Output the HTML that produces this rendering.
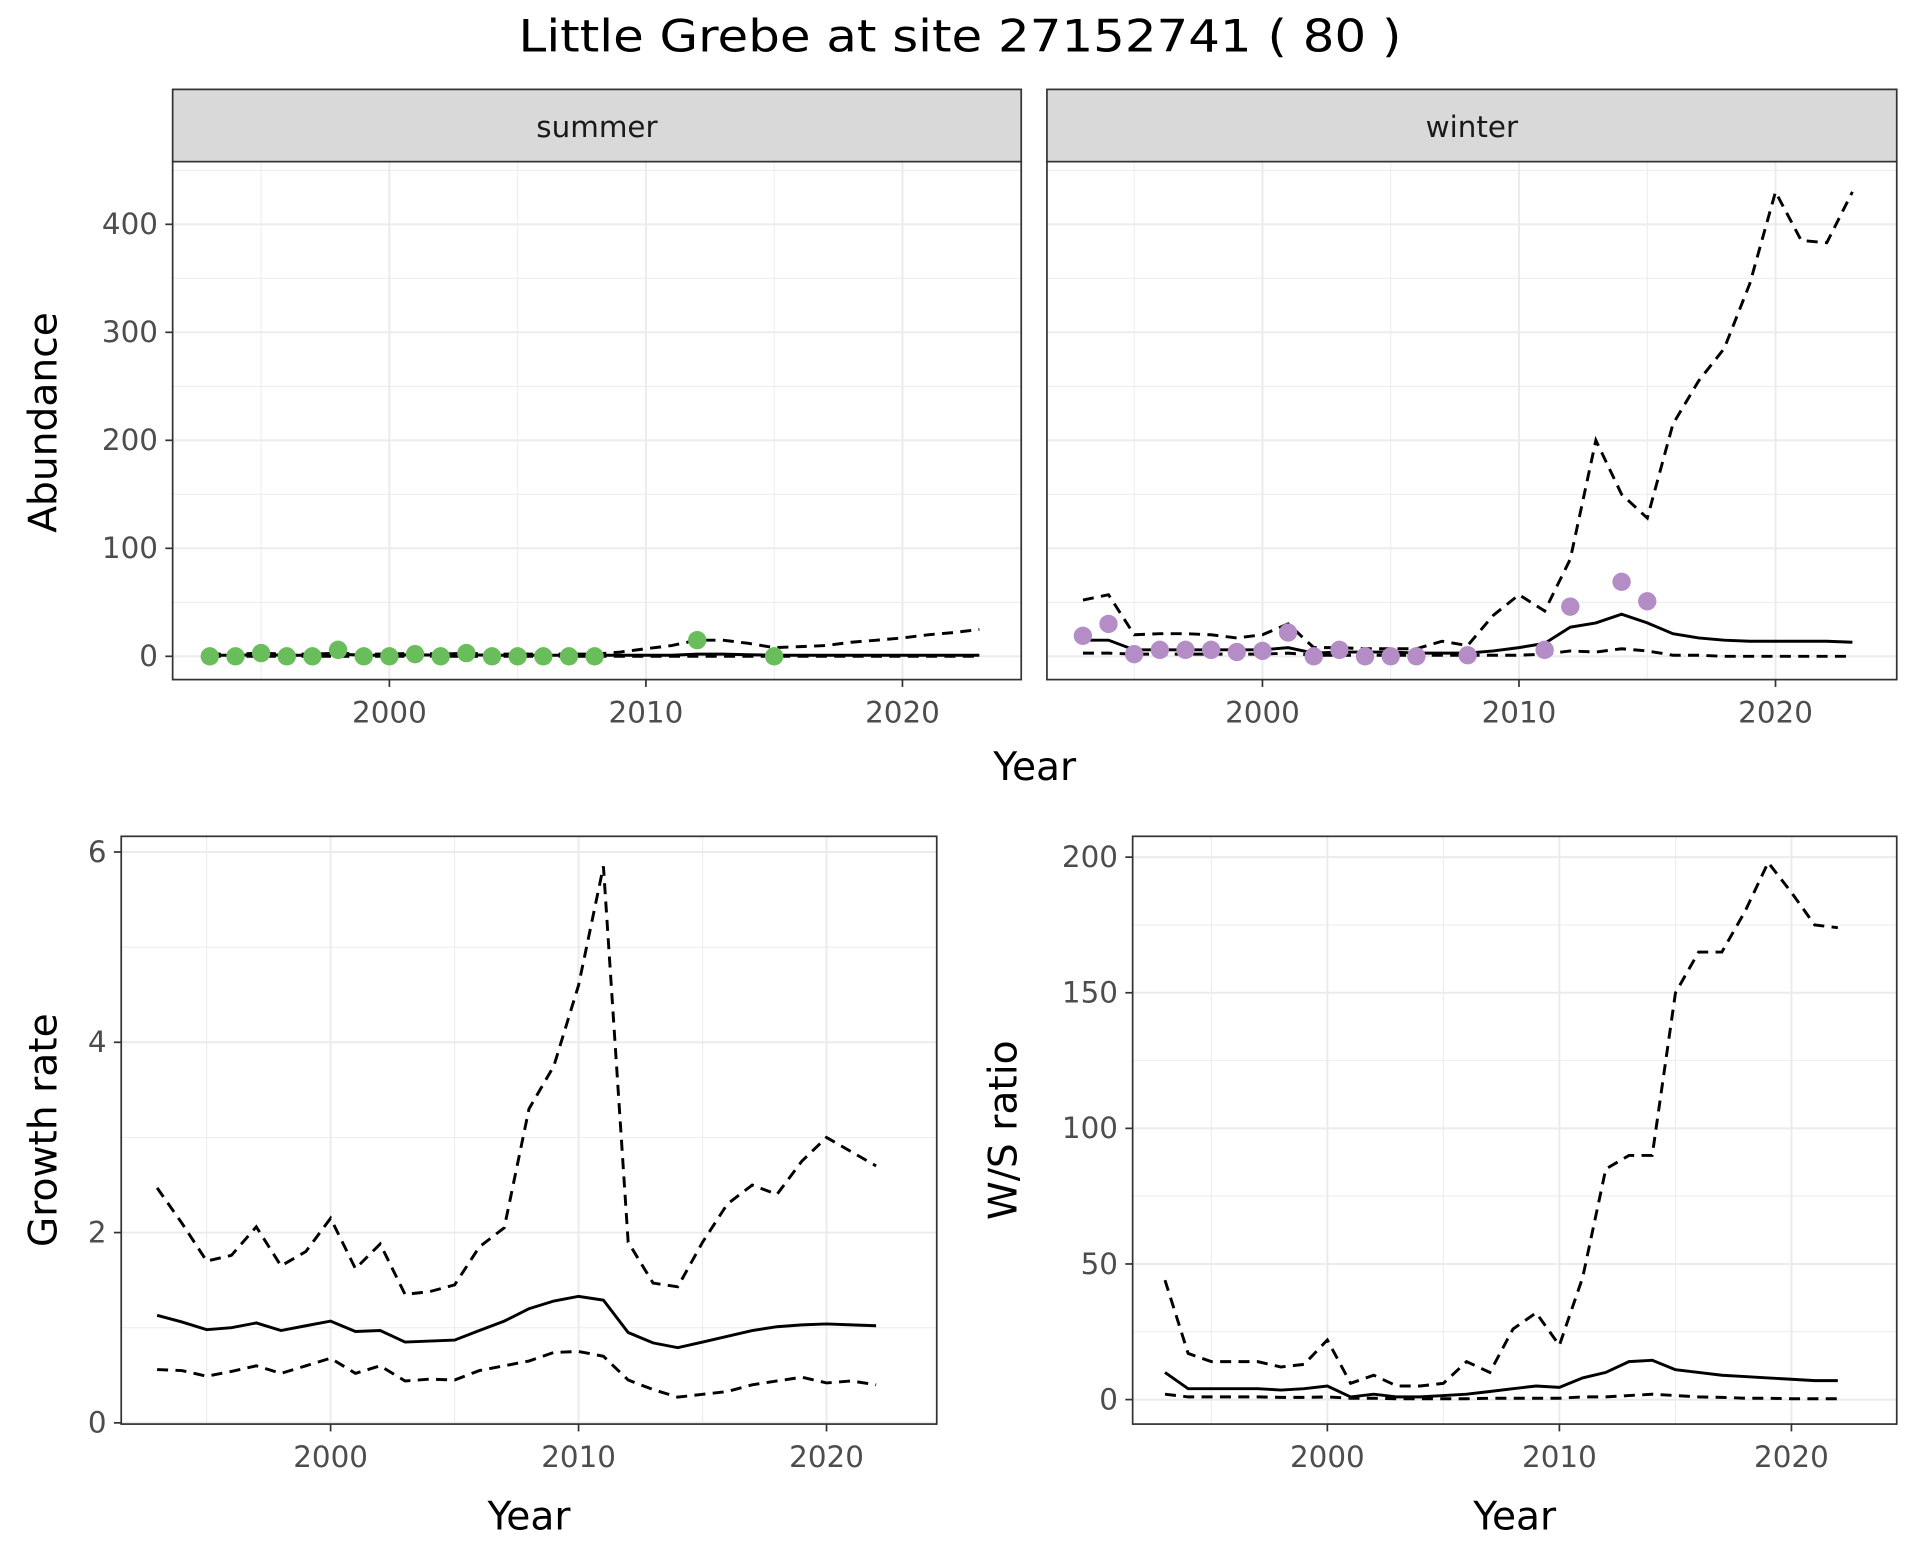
<!DOCTYPE html>
<html><head><meta charset="utf-8"><style>
html,body{margin:0;padding:0;background:#fff}
svg{display:block}
text{font-family:"DejaVu Sans","Liberation Sans",sans-serif}
</style></head><body>
<svg id="c" width="1920" height="1560" viewBox="0 0 1568 1274" xmlns="http://www.w3.org/2000/svg">
<rect width="1568" height="1274" fill="#fff"/>
<text x="784" y="42" text-anchor="middle" font-size="36" textLength="721" lengthAdjust="spacingAndGlyphs" fill="#000">Little Grebe at site 27152741 ( 80 )</text>
</svg>
<script>
const yearsA = [1993,1994,1995,1996,1997,1998,1999,2000,2001,2002,2003,2004,2005,2006,2007,2008,2009,2010,2011,2012,2013,2014,2015,2016,2017,2018,2019,2020,2021,2022,2023];
const summerMean = [1,1,1.5,1,1,2,1,1,1.5,1,1.5,1,1,1,1,1,1,1,1,2,2,1.5,1,1,1,1,1,1,1,1,1];
const summerUpper = [2,2,3,2,2,3,2,2,3,2,3,2,2,2,2,2,4,7,10,15,15,12,8,9,10,13,15,17,20,22,25];
const summerLower = [0,0,0,0,0,0,0,0,0,0,0,0,0,0,0,0,0,0,0,0,0,0,0,0,0,0,0,0,0,0,0];
const summerPtYears = [1993,1994,1995,1996,1997,1998,1999,2000,2001,2002,2003,2004,2005,2006,2007,2008,2012,2015];
const summerPtVals = [0,0,3,0,0,6,0,0,2,0,3,0,0,0,0,0,15,0];
const winterMean = [15,15,6,6,6,6,6,6,8,3,4,4,4,3,3,3,5,8,12,27,31,39,31,21,17,15,14,14,14,14,13];
const winterUpper = [52,57,20,21,21,20,17,20,30,8,8,7,7,7,14,10,38,57,42,90,200,150,128,215,255,285,345,430,385,383,430];
const winterLower = [3,3,2,2,2,2,2,2,3,1,1,1,1,1,1,1,1,1,2,5,4,7,5,1,1,0,0,0,0,0,0];
const winterPtYears = [1993,1994,1995,1996,1997,1998,1999,2000,2001,2002,2003,2004,2005,2006,2008,2011,2012,2014,2015];
const winterPtVals = [19,30,2,6,6,6,4,5,22,0,6,0,0,0,1,6,46,69,51];
const yearsB = [1993,1994,1995,1996,1997,1998,1999,2000,2001,2002,2003,2004,2005,2006,2007,2008,2009,2010,2011,2012,2013,2014,2015,2016,2017,2018,2019,2020,2021,2022];
const growthMean = [1.13,1.06,0.98,1.0,1.05,0.97,1.02,1.07,0.96,0.97,0.85,0.86,0.87,0.97,1.07,1.2,1.28,1.33,1.29,0.95,0.84,0.79,0.85,0.91,0.97,1.01,1.03,1.04,1.03,1.02];
const growthUpper = [2.47,2.1,1.7,1.76,2.06,1.65,1.8,2.15,1.62,1.88,1.35,1.38,1.45,1.85,2.05,3.3,3.75,4.6,5.85,1.9,1.47,1.43,1.9,2.3,2.5,2.4,2.75,3.0,2.85,2.7];
const growthLower = [0.56,0.55,0.49,0.54,0.6,0.52,0.6,0.68,0.52,0.6,0.44,0.46,0.45,0.55,0.6,0.65,0.74,0.75,0.7,0.45,0.35,0.27,0.3,0.33,0.4,0.44,0.48,0.42,0.44,0.4];
const ratioMean = [10,4,4,4,4,3.5,4,5,1,2,1,1,1.5,2,3,4,5,4.5,8,10,14,14.5,11,10,9,8.5,8,7.5,7,7];
const ratioUpper = [44,17,14,14,14,12,13,22,6,9,5,5,6,14,10,26,32,20,45,85,90,90,150,165,165,180,198,187,175,174];
const ratioLower = [2,1,1,1,1,0.8,0.8,1,0.5,0.5,0.3,0.3,0.3,0.3,0.5,0.5,0.5,0.5,1,1,1.5,2,1.5,1,0.8,0.5,0.5,0.3,0.3,0.3];
const abTicks = [0,100,200,300,400];
const grTicks = [0,2,4,6];
const raTicks = [0,50,100,150,200];
const xTicks = [2000,2010,2020];

const NS = "http://www.w3.org/2000/svg";
const svg = document.getElementById('c');
function mk(tag, attrs, parent, name) {
  const e = document.createElementNS(NS, tag);
  for (const k in attrs) e.setAttribute(k, attrs[k]);
  
  
  (parent || svg).appendChild(e);
  return e;
}
function panel(o) {
  const g = mk('g', {}, svg, o.name);
  const X = v => o.px0 + (v - o.xa) * o.xs;
  const Y = v => o.py0 - (v - o.ya) * o.ys;
  mk('rect', {x:o.L, y:o.T, width:o.R-o.L, height:o.B-o.T, fill:'#fff'}, g, 'panel-background');
  for (let i = 0; i < o.yt.length - 1; i++) {
    const m = (o.yt[i] + o.yt[i+1]) / 2;
    mk('line', {x1:o.L, x2:o.R, y1:Y(m), y2:Y(m), stroke:'#ebebeb', 'stroke-width':0.8}, g, 'minor-gridline');
  }
  const topMinor = o.yt[o.yt.length-1] + (o.yt[1]-o.yt[0])/2;
  if (Y(topMinor) > o.T) mk('line', {x1:o.L, x2:o.R, y1:Y(topMinor), y2:Y(topMinor), stroke:'#ebebeb', 'stroke-width':0.8}, g, 'minor-gridline');
  for (const t of [1995,2005,2015]) mk('line', {x1:X(t), x2:X(t), y1:o.T, y2:o.B, stroke:'#ebebeb', 'stroke-width':0.8}, g, 'minor-gridline');
  for (const t of o.yt) {
    mk('line', {x1:o.L, x2:o.R, y1:Y(t), y2:Y(t), stroke:'#ebebeb', 'stroke-width':1.6}, g, 'major-gridline');
    if (o.ylabels) {
      mk('line', {x1:o.L-6, x2:o.L, y1:Y(t), y2:Y(t), stroke:'#333', 'stroke-width':1.4}, g, 'y-tick');
      const tx = mk('text', {x:o.L-12, y:Y(t)+8, 'text-anchor':'end', 'font-size':24, fill:'#4d4d4d'}, g, 'y-tick-label');
      tx.textContent = t;
    }
  }
  for (const t of xTicks) {
    mk('line', {x1:X(t), x2:X(t), y1:o.T, y2:o.B, stroke:'#ebebeb', 'stroke-width':1.6}, g, 'major-gridline');
    mk('line', {x1:X(t), x2:X(t), y1:o.B, y2:o.B+6, stroke:'#333', 'stroke-width':1.4}, g, 'x-tick');
    const tx = mk('text', {x:X(t), y:o.B+35, 'text-anchor':'middle', 'font-size':24, fill:'#4d4d4d'}, g, 'x-tick-label');
    tx.textContent = t;
  }
  const line = (yrs, vals, dash, nm) => {
    const d = yrs.map((y,i)=>(i?'L':'M')+X(y).toFixed(1)+','+Y(vals[i]).toFixed(1)).join(' ');
    const a = {d:d, fill:'none', stroke:'#000', 'stroke-width':2.4};
    if (dash) a['stroke-dasharray'] = '9,6';
    mk('path', a, g, nm);
  };
  line(o.yrs, o.up, true, 'upper-ci-line');
  line(o.yrs, o.lo, true, 'lower-ci-line');
  line(o.yrs, o.mean, false, 'mean-line');
  if (o.pty) o.pty.forEach((y,i)=>{
    mk('circle', {cx:X(y), cy:Y(o.ptv[i]), r:7.5, fill:o.col}, g, 'observed-point');
  });
  mk('rect', {x:o.L, y:o.T, width:o.R-o.L, height:o.B-o.T, fill:'none', stroke:'#333', 'stroke-width':1.4}, g, 'panel-border');
  if (o.strip) {
    mk('rect', {x:o.L, y:73, width:o.R-o.L, height:o.T-73, fill:'#d9d9d9', stroke:'#333', 'stroke-width':1.4}, g, 'facet-strip');
    const st = mk('text', {x:(o.L+o.R)/2, y:112, 'text-anchor':'middle', 'font-size':24, fill:'#1a1a1a'}, g, 'facet-label-' + o.strip);
    st.textContent = o.strip;
  }
}
panel({name:'summer-panel', L:141, R:834, T:132, B:555, px0:318, xa:2000, xs:20.95, py0:536, ya:0, ys:0.882,
  yt:abTicks, ylabels:true, yrs:yearsA, mean:summerMean, up:summerUpper, lo:summerLower, pty:summerPtYears, ptv:summerPtVals, col:'#6abd5b', strip:'summer'});
panel({name:'winter-panel', L:855, R:1549, T:132, B:555, px0:1031, xa:2000, xs:20.95, py0:536, ya:0, ys:0.882,
  yt:abTicks, ylabels:false, yrs:yearsA, mean:winterMean, up:winterUpper, lo:winterLower, pty:winterPtYears, ptv:winterPtVals, col:'#b48dc6', strip:'winter'});
panel({name:'growth-rate-panel', L:99, R:765, T:683, B:1163, px0:270, xa:2000, xs:20.25, py0:1162, ya:0, ys:77.7,
  yt:grTicks, ylabels:true, yrs:yearsB, mean:growthMean, up:growthUpper, lo:growthLower});
panel({name:'ws-ratio-panel', L:925, R:1549, T:683, B:1163, px0:1084, xa:2000, xs:18.95, py0:1143, ya:0, ys:2.215,
  yt:raTicks, ylabels:true, yrs:yearsB, mean:ratioMean, up:ratioUpper, lo:ratioLower});
const labs = [
  ['Year', 845, 637, 0, 'x-axis-title-top'],
  ['Year', 432, 1249, 0, 'x-axis-title-growth'],
  ['Year', 1237, 1249, 0, 'x-axis-title-ratio'],
  ['Abundance', 46, 345, -90, 'y-axis-title-abundance'],
  ['Growth rate', 46, 923, -90, 'y-axis-title-growth'],
  ['W/S ratio', 830, 923, -90, 'y-axis-title-ratio']
];
for (const l of labs) {
  const t = mk('text', {x:l[1], y:l[2], 'text-anchor':'middle', 'font-size':32, fill:'#000', transform:l[3]?`rotate(${l[3]} ${l[1]} ${l[2]})`:''}, svg, l[4]);
  t.textContent = l[0];
}
</script>
</body></html>
